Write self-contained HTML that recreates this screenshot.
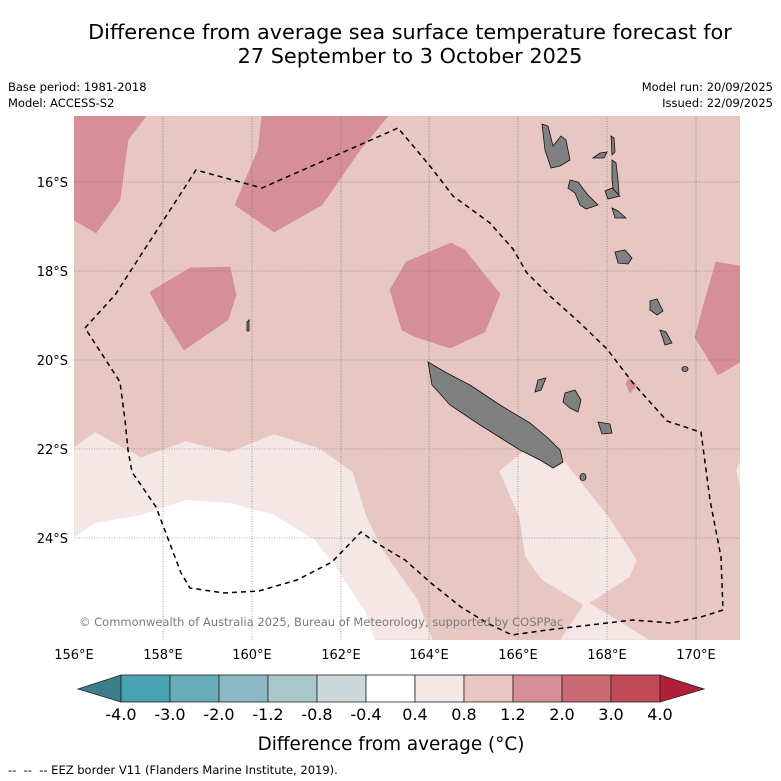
<!DOCTYPE html>
<html><head><meta charset="utf-8"><style>
body{margin:0;background:#fff;width:781px;height:781px;overflow:hidden;font-family:"DejaVu Sans","Liberation Sans",sans-serif}
svg{position:absolute;left:0;top:0}
</style></head><body>
<svg width="781" height="781" viewBox="0 0 781 781">
<text x="410" y="39" font-size="20.8" text-anchor="middle">Difference from average sea surface temperature forecast for</text>
<text x="410" y="63" font-size="20.8" text-anchor="middle">27 September to 3 October 2025</text>
<text x="8" y="91" font-size="11.5">Base period: 1981-2018</text>
<text x="8" y="107" font-size="11.5">Model: ACCESS-S2</text>
<text x="773" y="91" font-size="11.5" text-anchor="end">Model run: 20/09/2025</text>
<text x="773" y="107" font-size="11.5" text-anchor="end">Issued: 22/09/2025</text>
<defs><clipPath id="mc"><rect x="74" y="116" width="666" height="524"/></clipPath></defs>
<g clip-path="url(#mc)">
<rect x="74" y="116" width="666" height="524" fill="#e8c6c2"/>
<g fill="#d68f96" stroke="#c98890" stroke-width="0.5">
<polygon points="74,116 146,116 128,140 120,200 96,233 74,220"/>
<polygon points="262,116 388,116 360,150 322,205 274,232 235,205 258,150"/>
<polygon points="150,292 190,268 230,267 236,295 228,320 184,350 162,315"/>
<polygon points="406,262 451,243 465,250 500,294 485,332 450,348 416,337 402,330 390,290"/>
<polygon points="716,262 740,266 740,362 718,375 695,337 705,300"/>
<polygon points="629,378 637,385 630,393 626,384"/>
</g>
<g fill="#f4e7e5" stroke="#e0c8c4" stroke-width="0.5">
<polygon points="74,447 95,432 141,457 186,441 229,452 274,434 319,448 353,472 366,515 383,550 418,600 433,640 74,640"/>
<polygon points="499,471 521,453 540,436 566,463 609,517 637,560 630,577 590,603 650,640 560,640 583,605 542,580 525,557 519,517"/>
<polygon points="736,470 740,460 740,487"/>
</g>
<polygon fill="#ffffff" points="74,537 95,523 141,515 186,500 231,503 274,515 315,540 340,573 366,613 375,640 74,640"/>
<g stroke="#666" stroke-width="0.6" stroke-dasharray="1,1.5">
<line x1="163" y1="116" x2="163" y2="640"/><line x1="252" y1="116" x2="252" y2="640"/><line x1="341" y1="116" x2="341" y2="640"/><line x1="429" y1="116" x2="429" y2="640"/><line x1="518" y1="116" x2="518" y2="640"/><line x1="607" y1="116" x2="607" y2="640"/><line x1="696" y1="116" x2="696" y2="640"/>
<line x1="74" y1="182" x2="740" y2="182"/><line x1="74" y1="271" x2="740" y2="271"/><line x1="74" y1="360" x2="740" y2="360"/><line x1="74" y1="449" x2="740" y2="449"/><line x1="74" y1="538" x2="740" y2="538"/>
</g>
<g fill="#808080" stroke="#111" stroke-width="0.8">
<polygon points="428,362 445,372 470,385 500,405 530,423 548,438 560,450 563,462 553,468 540,460 520,450 480,425 450,405 432,385"/>
<polygon points="565,393 575,390 581,400 578,412 570,408 563,402"/>
<polygon points="598,422 610,424 612,433 602,434"/>
<polygon points="538,380 546,378 541,390 535,392"/>
<polygon points="542,124 548,126 553,146 561,136 566,140 570,160 560,166 551,168 545,150"/>
<polygon points="570,180 578,182 588,195 598,205 586,209 580,205 575,193 568,188"/>
<polygon points="593,158 600,153 607,152 604,158"/>
<polygon points="611,136 614,138 615,152 612,155"/>
<polygon points="612,160 616,163 618,180 619,194 614,196 612,180"/>
<polygon points="605,191 612,188 620,196 608,199"/>
<polygon points="612,208 618,211 626,218 615,218"/>
<polygon points="615,252 625,250 632,258 628,264 618,263"/>
<polygon points="650,301 657,299 663,311 657,315 650,310"/>
<polygon points="660,330 666,332 672,343 665,345"/>
<ellipse cx="685" cy="369" rx="3" ry="2.5"/>
<ellipse cx="583" cy="477" rx="3" ry="3.5"/>
<polygon points="247,322 249,320 249,331 247,331"/>
</g>
<polyline fill="none" stroke="#000" stroke-width="1.5" stroke-dasharray="5,4" points="85,328 115,295 196,170 262,188 398,128 430,166 453,196 490,223 513,249 527,273 550,296 580,323 607,349 633,383 667,421 697,431 701,432 710,500 721,557 723,610 701,617 671,623 633,620 547,630 512,635 487,623 461,607 431,583 405,560 375,542 361,532 332,562 297,580 259,591 224,593 190,588 181,573 156,507 132,472 128,450 125,420 120,382 85,328"/>
<text x="79" y="626" font-size="11.5" fill="#7a7a7a">© Commonwealth of Australia 2025, Bureau of Meteorology, supported by COSPPac</text>
</g>
<g font-size="13">
<text x="68" y="187" text-anchor="end">16°S</text><text x="68" y="276" text-anchor="end">18°S</text><text x="68" y="365" text-anchor="end">20°S</text><text x="68" y="454" text-anchor="end">22°S</text><text x="68" y="543" text-anchor="end">24°S</text>
</g>
<g font-size="13" text-anchor="middle">
<text x="74" y="659">156°E</text><text x="163" y="659">158°E</text><text x="252" y="659">160°E</text><text x="341" y="659">162°E</text><text x="429" y="659">164°E</text><text x="518" y="659">166°E</text><text x="607" y="659">168°E</text><text x="696" y="659">170°E</text>
</g>
<g stroke="#222" stroke-width="0.8">
<polygon points="78,689 121,675 121,702" fill="#3b7f8a"/>
<rect x="121" y="675" width="49" height="27" fill="#48a2b2"/>
<rect x="170" y="675" width="49" height="27" fill="#69adba"/>
<rect x="219" y="675" width="49" height="27" fill="#8cb9c4"/>
<rect x="268" y="675" width="49" height="27" fill="#aac8cc"/>
<rect x="317" y="675" width="49" height="27" fill="#ccd9da"/>
<rect x="366" y="675" width="49" height="27" fill="#ffffff"/>
<rect x="415" y="675" width="49" height="27" fill="#f4e7e5"/>
<rect x="464" y="675" width="49" height="27" fill="#e8c6c2"/>
<rect x="513" y="675" width="49" height="27" fill="#d68f96"/>
<rect x="562" y="675" width="49" height="27" fill="#cb6a75"/>
<rect x="611" y="675" width="49" height="27" fill="#c04a58"/>
<polygon points="660,675 704,689 660,702" fill="#b11f3b"/>
</g>
<g font-size="16" text-anchor="middle">
<text x="121" y="720">-4.0</text><text x="170" y="720">-3.0</text><text x="219" y="720">-2.0</text><text x="268" y="720">-1.2</text><text x="317" y="720">-0.8</text><text x="366" y="720">-0.4</text><text x="415" y="720">0.4</text><text x="464" y="720">0.8</text><text x="513" y="720">1.2</text><text x="562" y="720">2.0</text><text x="611" y="720">3.0</text><text x="660" y="720">4.0</text>
</g>
<text x="391" y="750" font-size="18.4" text-anchor="middle">Difference from average (<tspan font-style="italic">°</tspan>C)</text>
<text x="8" y="774" font-size="11.5">-- &#160;-- &#160;-- EEZ border V11 (Flanders Marine Institute, 2019).</text>
</svg>
</body></html>
